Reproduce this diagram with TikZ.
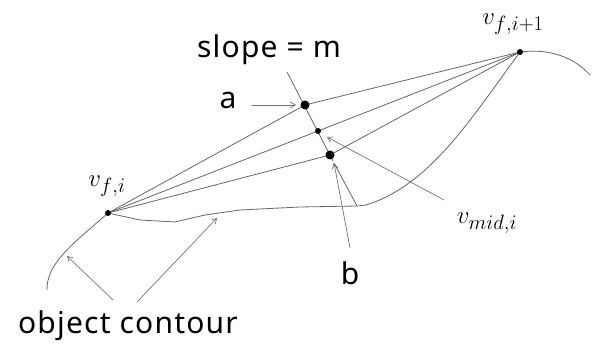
\documentclass[tikz,border=0pt]{standalone}
\usepackage{fontspec}
\setmainfont{Noto Sans}
\usetikzlibrary{arrows.meta}
\newcommand{\mysub}[1]{\mbox{\fontsize{21}{24}\selectfont$#1$}}
\begin{document}
\begin{tikzpicture}[x=1pt,y=-1pt,
  ln/.style={draw=black!60,line width=0.8pt},
  arr/.style={draw=black!55,line width=0.7pt,-{Straight Barb[length=5pt,width=6pt]}},
  dotbig/.style={circle,fill=black,inner sep=0pt,minimum size=9pt},
  dotsmall/.style={circle,fill=black,inner sep=0pt,minimum size=6pt},
  lbl/.style={font=\fontsize{30}{34}\selectfont\addfontfeatures{LetterSpace=4},inner sep=0pt},
  mlbl/.style={font=\fontsize{31}{36}\selectfont,inner sep=0pt}]
\useasboundingbox (0,0) rectangle (597,347);
% vertices
\coordinate (vfi) at (108,213);
\coordinate (vfi1) at (520,52);
\coordinate (a) at (305,105);
\coordinate (m) at (318,131);
\coordinate (b) at (330,155);
\coordinate (ltop) at (287,72);
\coordinate (lbot) at (333,161);
% slope line
\draw[ln] (ltop) -- (lbot);
% rays
\draw[ln] (vfi) -- (a) -- (vfi1);
\draw[ln] (vfi) -- (m) -- (vfi1);
\draw[ln] (vfi) -- (b) -- (vfi1);
% contour
\coordinate (c0) at (47,290);
\coordinate (cq) at (357,206);
\coordinate (cend) at (590,75);
\draw[ln] (c0) .. controls (46,262) and (78,240) .. (vfi)
  -- (140,220) -- (175,222) -- (205,215) -- (240,210) -- (300,207) -- (cq)
  -- (366,205) .. controls (430,185) and (470,120) .. (vfi1)
  .. controls (550,48) and (575,58) .. (cend);
% dots
\node[dotsmall] (nvfi) at (vfi) {};
\node[dotsmall] (nvfi1) at (vfi1) {};
\node[dotbig] (na) at (a) {};
\node[dotsmall] (nm) at (m) {};
\node[dotbig] (nb) at (b) {};
% labels
\node[lbl] (slope) at (269,50) {slope = m};
\node[lbl] (la) at (228,100) {a};
\node[lbl] (lb) at (350,273) {b};
\node[lbl] (oc) at (128,326) {object contour};
\node[mlbl] (lvfi) at (107,186) {$v_{\mysub{f{,}i}}$};
\node[mlbl] (lvfi1) at (513,24) {$v_{\mysub{f{,}i{+}1}}$};
\node[mlbl] (lvmid) at (487,223) {$v_{\mysub{mid{,}i}}$};
% arrows
\coordinate (aa) at (252,105);
\draw[arr] (aa) -- (296,105);
\coordinate (ma) at (444,200);
\draw[arr] (ma) -- (327,137);
\coordinate (ba) at (350,248);
\draw[arr] (ba) -- (334,163);
\draw[ln] (cq) -- (334,163);
\coordinate (o1) at (113,300);
\coordinate (o2) at (137,302);
\draw[arr] (o1) -- (67,256);
\draw[arr] (o2) -- (217,218);
\end{tikzpicture}
\end{document}
